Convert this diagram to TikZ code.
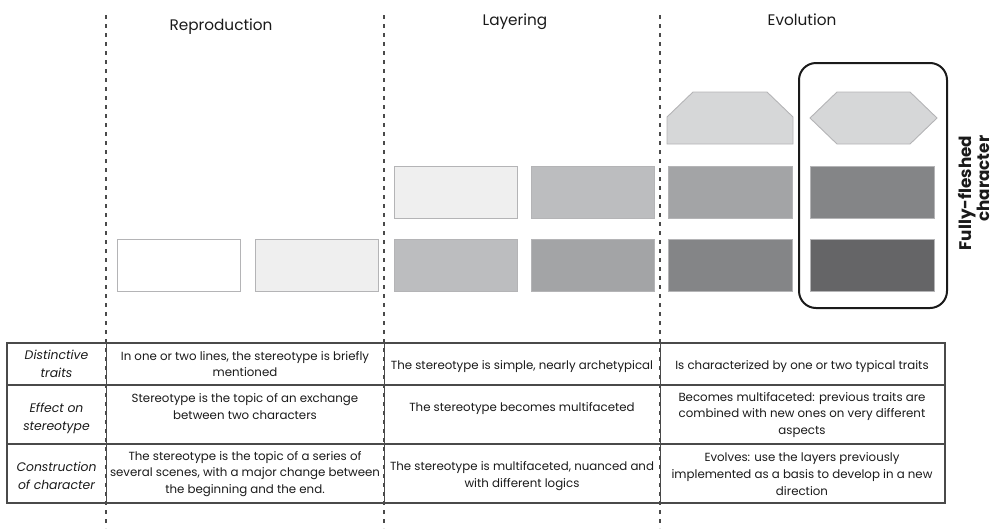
\documentclass[tikz,border=0pt]{standalone}
\usepackage{fontspec}
\setmainfont{Poppins}
\definecolor{edge}{HTML}{B4B4B6}
\definecolor{gA}{HTML}{FFFFFF}
\definecolor{gB}{HTML}{EFEFEF}
\definecolor{gC}{HTML}{BCBDBF}
\definecolor{gD}{HTML}{A3A4A6}
\definecolor{gE}{HTML}{848587}
\definecolor{gF}{HTML}{656567}
\definecolor{hexfill}{HTML}{D6D7D8}
\definecolor{rulegray}{HTML}{4A4A4A}
\definecolor{ink}{HTML}{1A1A1A}
\begin{document}
\begin{tikzpicture}[x=1pt,y=-1pt,
  layerbox/.style={draw=edge, line width=0.9pt, minimum width=123pt, minimum height=52pt,
    inner sep=0pt, anchor=north west},
  hexshape/.style={draw=edge, line width=0.9pt, fill=hexfill},
  phase/.style={draw=rulegray, line width=1.2pt, dash pattern=on 4pt off 5pt},
  title/.style={font=\fontsize{15.3}{18}\selectfont, text=ink, inner sep=0pt},
  cell/.style={font=\fontsize{11.8}{16.8}\selectfont, text=ink, align=center, inner sep=0pt},
  rowlabel/.style={cell, font=\fontsize{12.4}{18}\selectfont\itshape},
  grid/.style={draw=rulegray, line width=1.1pt},
]
\useasboundingbox (0,0) rectangle (995,528);

% phase separators
\coordinate (s1t) at (106,15);  \coordinate (s1b) at (106,528);
\coordinate (s2t) at (384,15);  \coordinate (s2b) at (384,528);
\coordinate (s3t) at (660,15);  \coordinate (s3b) at (660,528);

% phase titles
\node[title] (tRep) at (221,27) {Reproduction};
\node[title] (tLay) at (515,22) {Layering};
\node[title] (tEvo) at (802,20) {Evolution};

% reproduction layers
\node[layerbox, fill=gA] (r1) at (117,239) {};
\node[layerbox, fill=gB] (r2) at (255,239) {};

% layering layers
\node[layerbox, fill=gB] (l1t) at (394,166) {};
\node[layerbox, fill=gC] (l1b) at (394,239) {};
\node[layerbox, fill=gC] (l2t) at (531,166) {};
\node[layerbox, fill=gD] (l2b) at (531,239) {};

% evolution layers
\draw[hexshape] (693,92) -- (767,92) -- (793,117) -- (793,144) -- (667,144) -- (667,117) -- cycle;
\node[layerbox, fill=gD, minimum width=124pt] (e1m) at (668,166) {};
\node[layerbox, fill=gE, minimum width=124pt] (e1b) at (668,239) {};
\draw[hexshape] (810,118) -- (837,92) -- (910,92) -- (937,118) -- (910,144) -- (837,144) -- cycle;
\node[layerbox, fill=gE, minimum width=124pt] (e2m) at (810,166) {};
\node[layerbox, fill=gF, minimum width=124pt] (e2b) at (810,239) {};

% highlighted final character
\draw[line width=2pt, draw=ink, rounded corners=17pt] (799,63) rectangle (947,308);
\node[rotate=90, align=right, font=\fontsize{16.8}{17.5}\selectfont\bfseries, text=ink, inner sep=0pt]
  (full) at (974,193) {Fully-fleshed\\character};

% table grid
\coordinate (tl) at (7,343);
\coordinate (br) at (945,503);
\draw[grid] (tl) rectangle (br);
\draw[grid] (7,385) -- (945,385);
\draw[grid] (7,444) -- (945,444);
\draw[draw=rulegray, line width=0.5pt] (106,343) -- (106,503) (384,343) -- (384,503) (660,343) -- (660,503);

% separators drawn over everything
\draw[phase] (s1t) -- (s1b);
\draw[phase] (s2t) -- (s2b);
\draw[phase] (s3t) -- (s3b);

% row labels
\node[rowlabel] (h1) at (56.5,364) {Distinctive\\traits};
\node[rowlabel] (h2) at (56.5,418.5) {Effect on\\stereotype};
\node[rowlabel] (h3) at (56.5,476) {Construction\\of character};

% reproduction column
\node[cell] (c11) at (245,364) {In one or two lines, the stereotype is briefly\\mentioned};
\node[cell] (c21) at (245,406.5) {Stereotype is the topic of an exchange\\between two characters};
\node[cell] (c31) at (245,474) {The stereotype is the topic of a series of\\several scenes, with a major change between\\the beginning and the end.};

% layering column
\node[cell] (c12) at (522,367) {The stereotype is simple, nearly archetypical};
\node[cell] (c22) at (522,409) {The stereotype becomes multifaceted};
\node[cell] (c32) at (522,476) {The stereotype is multifaceted, nuanced and\\with different logics};

% evolution column
\node[cell] (c13) at (802,367) {Is characterized by one or two typical traits};
\node[cell] (c23) at (802,415) {Becomes multifaceted: previous traits are\\combined with new ones on very different\\aspects};
\node[cell] (c33) at (802,474) {Evolves: use the layers previously\\implemented as a basis to develop in a new\\direction};
\end{tikzpicture}
\end{document}
